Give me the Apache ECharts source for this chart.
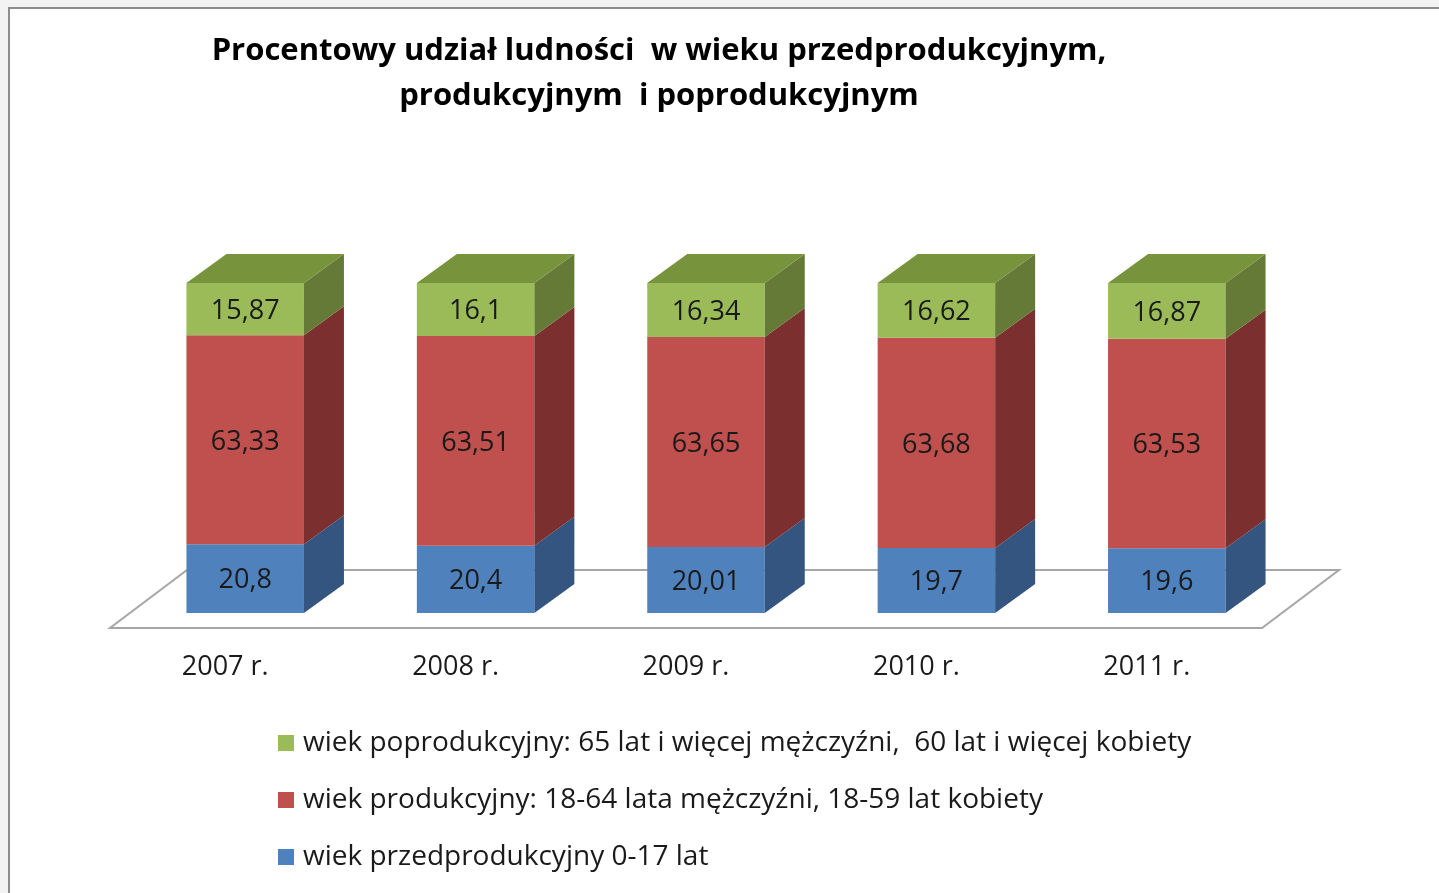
<!DOCTYPE html>
<html>
<head>
<meta charset="utf-8">
<script src="https://cdn.jsdelivr.net/npm/echarts@6/dist/echarts.min.js"></script>
<style>
  html, body { margin: 0; padding: 0; background: #f3f3f3; overflow: hidden; }
  #frame { position: absolute; left: 8px; top: 7px; right: 0; bottom: 0; background: #fff;
           border-left: 2px solid #8c8c8c; border-top: 2px solid #8c8c8c; }
  #chart { position: absolute; left: 0; top: 0; width: 1439px; height: 893px; }
</style>
</head>
<body>
<div id="frame"></div>
<div id="chart"></div>
<script>
const years = ['2007 r.', '2008 r.', '2009 r.', '2010 r.', '2011 r.'];
const przedprodukcyjny = [20.8, 20.4, 20.01, 19.7, 19.6];
const produkcyjny = [63.33, 63.51, 63.65, 63.68, 63.53];
const poprodukcyjny = [15.87, 16.1, 16.34, 16.62, 16.87];

const names = [
  'wiek przedprodukcyjny 0-17 lat',
  'wiek produkcyjny: 18-64 lata mężczyźni, 18-59 lat kobiety',
  'wiek poprodukcyjny: 65 lat i więcej mężczyźni,  60 lat i więcej kobiety',
];

const FONT = '"Open Sans", Lato, sans-serif';
const DX = 40, DY = -29;        // bar depth
const BAR_RATIO = 0.51;

const fmt = v => String(v).replace('.', ',');

// stack: [category, base, value]
function stackRows(values, bases) {
  return values.map((v, i) => [i, bases[i], v]);
}
const base2 = przedprodukcyjny.map((v, i) => v + produkcyjny[i]);
const zeros = years.map(() => 0);

function barRenderer(front, side, top, isTop) {
  return (params, api) => {
    const i = api.value(0), base = api.value(1), val = api.value(2);
    const p0 = api.coord([i, base]);
    const p1 = api.coord([i, base + val]);
    const w = api.size([1, 0])[0] * BAR_RATIO;
    const x0 = p0[0] - w / 2, x1 = p0[0] + w / 2;
    const yb = p0[1], yt = p1[1];
    const children = [
      { type: 'rect', shape: { x: x0, y: yt, width: w, height: yb - yt }, style: { fill: front } },
      { type: 'polygon', shape: { points: [[x1, yb], [x1 + DX, yb + DY], [x1 + DX, yt + DY], [x1, yt]] }, style: { fill: side } },
    ];
    if (isTop) {
      children.push({ type: 'polygon', shape: { points: [[x0, yt], [x0 + DX, yt + DY], [x1 + DX, yt + DY], [x1, yt]] }, style: { fill: top } });
    }
    children.push({
      type: 'text', x: p0[0], y: (yb + yt) / 2 + 2,
      style: { text: fmt(val), align: 'center', verticalAlign: 'middle', fontSize: 27, fontFamily: FONT, fill: '#1a1a1a' },
    });
    return { type: 'group', children };
  };
}

function floorRenderer(params) {
  const cs = params.coordSys;
  const fy = cs.y + cs.height + 15;
  const fl = cs.x - 20, fr = cs.x + cs.width - 20;
  return {
    type: 'polygon',
    shape: { points: [[fl, fy], [fr, fy], [fr + 77, fy - 58], [fl + 77, fy - 58]] },
    style: { fill: '#fff', stroke: '#a6a6a6', lineWidth: 2 },
  };
}

const chart = echarts.init(document.getElementById('chart'), null, { renderer: 'canvas' });
chart.setOption({
  backgroundColor: 'transparent',
  animation: false,
  title: {
    text: 'Procentowy udział ludności  w wieku przedprodukcyjnym,\nprodukcyjnym  i poprodukcyjnym',
    left: 654, top: 24, textAlign: 'center',
    textStyle: { fontFamily: FONT, fontWeight: 'bold', fontSize: 31, lineHeight: 45, color: '#000' },
  },
  legend: {
    orient: 'vertical', left: 273, top: 724,
    itemWidth: 16, itemHeight: 16, itemGap: 29, icon: 'rect',
    data: [names[2], names[1], names[0]],
    textStyle: { fontFamily: FONT, fontSize: 28, color: '#1a1a1a', padding: [0, 0, 0, 4] },
  },
  grid: { left: 130, right: 157, top: 283, bottom: 280 },
  xAxis: {
    type: 'category', data: years,
    axisLine: { show: false }, axisTick: { show: false },
    axisLabel: { fontFamily: FONT, fontSize: 27, color: '#1a1a1a', margin: 41, padding: [0, 40, 0, 0] },
  },
  yAxis: { type: 'value', min: 0, max: 100, show: false },
  series: [
    { type: 'custom', name: 'floor', z: 1, silent: true, renderItem: floorRenderer, data: [[0, 0]] },
    {
      type: 'custom', name: names[0], z: 2, itemStyle: { color: '#4f81bd' },
      renderItem: barRenderer('#4f81bd', '#34557f', '#3f6797', false),
      data: stackRows(przedprodukcyjny, zeros),
    },
    {
      type: 'custom', name: names[1], z: 2, itemStyle: { color: '#c0504d' },
      renderItem: barRenderer('#c0504d', '#7b2f2e', '#993f3d', false),
      data: stackRows(produkcyjny, przedprodukcyjny),
    },
    {
      type: 'custom', name: names[2], z: 2, itemStyle: { color: '#9bbb59' },
      renderItem: barRenderer('#9bbb59', '#657a37', '#77933c', true),
      data: stackRows(poprodukcyjny, base2),
    },
  ],
});
</script>
</body>
</html>
